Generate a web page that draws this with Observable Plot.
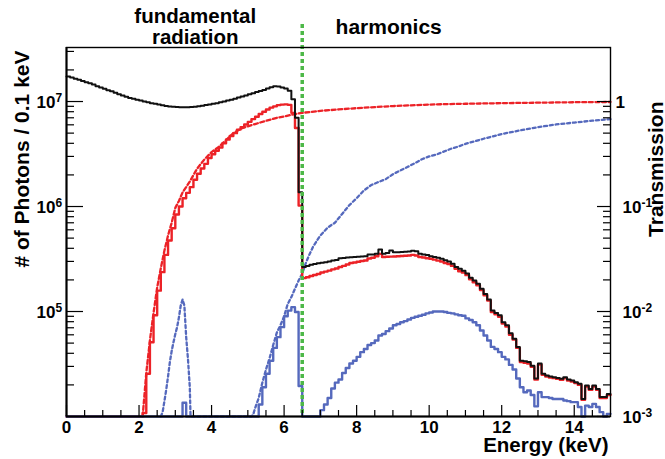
<!DOCTYPE html>
<html>
<head>
<meta charset="utf-8">
<script src="https://cdn.jsdelivr.net/npm/d3@7"></script>
<script src="https://cdn.jsdelivr.net/npm/@observablehq/plot@0.6"></script>
<style>
  body { margin: 0; background: #fff; }
  #chart svg { display: block; }
</style>
</head>
<body>
<div id="chart"></div>
<script>
// ---- data (0.1 keV bins starting at 0 keV) ----
const binWidth = 0.1;
const energyMax = 15;

const blackCounts = [
  1.73e7,1.69e7,1.65e7,1.61e7,1.57e7,1.53e7,1.49e7,1.45e7,1.40e7,1.36e7,
  1.32e7,1.28e7,1.25e7,1.21e7,1.17e7,1.14e7,1.11e7,1.08e7,1.06e7,1.04e7,
  1.02e7,1.00e7,9.85e6,9.65e6,9.5e6,9.35e6,9.2e6,9.05e6,8.95e6,8.9e6,
  8.85e6,8.82e6,8.8e6,8.8e6,8.85e6,8.9e6,9.0e6,9.1e6,9.25e6,9.35e6,
  9.5e6,9.65e6,9.85e6,1.0e7,1.02e7,1.04e7,1.065e7,1.09e7,1.115e7,1.14e7,
  1.17e7,1.2e7,1.23e7,1.26e7,1.29e7,1.33e7,1.37e7,1.40e7,1.39e7,1.36e7,
  1.33e7,1.27e7,1.05e7,7.0e6,1.37e6,2.65e5,2.72e5,2.79e5,2.84e5,2.88e5,
  2.91e5,2.95e5,3.0e5,3.06e5,3.1e5,3.22e5,3.24e5,3.27e5,3.29e5,3.31e5,
  3.33e5,3.35e5,3.36e5,3.49e5,3.5e5,3.54e5,3.9e5,3.54e5,3.6e5,3.81e5,
  3.67e5,3.67e5,3.68e5,3.7e5,3.72e5,3.79e5,3.75e5,3.54e5,3.5e5,3.45e5,
  3.36e5,3.3e5,3.25e5,3.18e5,3.08e5,2.99e5,2.85e5,2.65e5,2.55e5,2.45e5,
  2.3e5,2.1e5,1.97e5,1.84e5,1.65e5,1.47e5,1.3e5,1.02e5,9.7e4,9.2e4,
  7.9e4,7.4e4,6.2e4,5.5e4,4.6e4,3.4e4,3.35e4,3.3e4,3.05e4,2.3e4,
  3.2e4,2.55e4,2.46e4,2.4e4,2.37e4,2.33e4,2.29e4,2.37e4,2.25e4,2.2e4,
  2.12e4,2.05e4,1.47e4,1.97e4,1.83e4,1.97e4,1.83e4,1.53e4,1.53e4,1.64e4
];

const redCounts = [
  0,0,0,0,0,0,0,0,0,0,
  0,0,0,0,0,0,0,0,0,0,
  0,1.08e4,2.55e4,5.1e4,9.2e4,1.58e5,2.37e5,3.46e5,4.75e5,6.2e5,
  8.4e5,1.0e6,1.2e6,1.35e6,1.53e6,1.8e6,2.05e6,2.3e6,2.55e6,2.9e6,
  3.15e6,3.4e6,3.65e6,4.0e6,4.35e6,4.7e6,5.0e6,5.4e6,5.7e6,6.05e6,
  6.4e6,6.8e6,7.15e6,7.6e6,8.0e6,8.4e6,8.75e6,9.0e6,9.25e6,9.35e6,
  9.4e6,9.3e6,7.8e6,5.6e6,1.02e6,2.08e5,2.12e5,2.18e5,2.23e5,2.28e5,
  2.35e5,2.4e5,2.45e5,2.52e5,2.57e5,2.65e5,2.72e5,2.8e5,2.9e5,2.93e5,
  2.98e5,3.03e5,3.06e5,3.2e5,3.25e5,3.36e5,3.54e5,3.3e5,3.32e5,3.33e5,
  3.34e5,3.36e5,3.38e5,3.4e5,3.42e5,3.46e5,3.42e5,3.3e5,3.27e5,3.22e5,
  3.18e5,3.12e5,3.05e5,2.99e5,2.9e5,2.83e5,2.72e5,2.55e5,2.42e5,2.35e5,
  2.22e5,2.03e5,1.9e5,1.78e5,1.6e5,1.43e5,1.27e5,9.9e4,9.4e4,8.9e4,
  7.7e4,7.2e4,6.0e4,5.4e4,4.5e4,3.3e4,3.25e4,3.2e4,2.98e4,2.25e4,
  3.12e4,2.5e4,2.4e4,2.35e4,2.32e4,2.28e4,2.24e4,2.32e4,2.2e4,2.15e4,
  2.08e4,2.0e4,1.44e4,1.93e4,1.8e4,1.93e4,1.8e4,1.5e4,1.5e4,1.6e4
];

const blueCounts = [
  0,0,0,0,0,0,0,0,0,0,
  0,0,0,0,0,0,0,0,0,0,
  0,0,0,0,0,0,0,0,0,0,
  0,0,1.35e4,0,0,0,0,0,0,0,
  0,0,0,0,0,0,0,0,0,0,
  0,0,0,1.3e4,1.9e4,2.55e4,3.4e4,4.5e4,5.7e4,7.1e4,
  9.0e4,1.02e5,1.1e5,9.9e4,1.95e4,0,0,0,0,0,
  1.15e4,1.3e4,1.5e4,1.85e4,2.1e4,2.25e4,2.6e4,2.9e4,3.2e4,3.4e4,
  3.7e4,4.1e4,4.4e4,4.8e4,5.0e4,5.3e4,5.9e4,6.1e4,6.5e4,6.9e4,
  7.4e4,7.6e4,7.9e4,8.1e4,8.4e4,8.7e4,8.9e4,9.1e4,9.3e4,9.6e4,
  9.8e4,1.0e5,1.0e5,1.0e5,9.9e4,9.7e4,9.6e4,9.4e4,9.2e4,9.1e4,
  8.6e4,8.3e4,7.9e4,7.4e4,6.6e4,5.9e4,5.3e4,4.6e4,4.4e4,4.1e4,
  3.7e4,3.5e4,3.1e4,2.8e4,2.3e4,1.9e4,1.7e4,1.77e4,1.6e4,1.25e4,
  1.7e4,1.53e4,1.53e4,1.5e4,1.47e4,1.47e4,1.47e4,1.42e4,1.4e4,1.37e4,
  1.37e4,1.23e4,0,1.27e4,1.23e4,1.32e4,1.23e4,1.1e4,0,1.06e4
];

// transmission curves (right axis)
const redTransE = [2.1,2.2,2.3,2.4,2.5,2.6,2.7,2.8,2.9,3.0,3.1,3.2,3.3,3.4,3.6,3.8,4.0,4.2,4.4,4.6,4.8,5.0,5.2,5.5,5.8,6.0,6.3,6.5,7.0,7.5,8.0,8.5,9.0,9.5,10.0,10.5,11.0,12.0,13.0,14.0,15.0];
const redTransT = [0.001,0.0026,0.0053,0.0097,0.0169,0.0258,0.038,0.053,0.07,0.097,0.113,0.136,0.153,0.173,0.229,0.28,0.33,0.37,0.43,0.50,0.55,0.58,0.61,0.655,0.70,0.72,0.76,0.78,0.815,0.84,0.865,0.885,0.905,0.92,0.935,0.945,0.952,0.965,0.975,0.985,0.99];

const blueTransE = [2.6,2.65,2.7,2.75,2.8,2.85,2.9,2.95,3.0,3.05,3.1,3.15,3.2,3.25,3.3,3.35,3.4,3.42,
  5.1,5.15,5.2,5.3,5.4,5.5,5.6,5.7,5.8,5.9,6.0,6.1,6.2,6.3,6.4,6.5,6.6,6.7,6.8,6.9,7.0,7.2,7.4,7.6,7.8,8.0,8.2,8.4,8.6,8.8,9.0,9.2,9.4,9.6,9.8,10.0,10.2,10.4,10.6,10.8,11.0,11.5,12.0,12.5,13.0,13.5,14.0,14.5,15.0];
const blueTransT = [0,0.0011,0.0014,0.0018,0.0024,0.0033,0.0042,0.0051,0.0061,0.0071,0.0088,0.0114,0.013,0.0114,0.0057,0.0035,0.0019,0,
  0,0.00105,0.0012,0.0015,0.0021,0.0028,0.0036,0.0048,0.0063,0.0074,0.009,0.0118,0.0137,0.0165,0.0197,0.023,0.029,0.035,0.0415,0.047,0.053,0.063,0.070,0.085,0.103,0.12,0.142,0.16,0.171,0.182,0.203,0.22,0.238,0.258,0.282,0.30,0.313,0.333,0.355,0.372,0.395,0.442,0.49,0.53,0.57,0.605,0.63,0.657,0.68];

// right axis = left axis / 1e7
const transToPhotons = 1e7;
const divider = 6.5;

// ticks & labels
const xMajorTicks = [0,2,4,6,8,10,12,14];
const xTickLabels = ["0","2","4","6","8","10","12","14"];
const xMinorTicks = [0.5,1,1.5,2.5,3,3.5,4.5,5,5.5,6.5,7,7.5,8.5,9,9.5,10.5,11,11.5,12.5,13,13.5,14.5];
const yMajorTicks = [1e5,1e6,1e7];
const yTickExponents = ["5","6","7"];
const yMinorTicks = [2e4,3e4,4e4,5e4,6e4,7e4,8e4,9e4,2e5,3e5,4e5,5e5,6e5,7e5,8e5,9e5,2e6,3e6,4e6,5e6,6e6,7e6,8e6,9e6,2e7,3e7];
const tMajorTicks = [0.001,0.01,0.1,1];
const tMinorTicks = [0.002,0.003,0.004,0.005,0.006,0.007,0.008,0.009,0.02,0.03,0.04,0.05,0.06,0.07,0.08,0.09,0.2,0.3,0.4,0.5,0.6,0.7,0.8,0.9];
const tPowerTicks = [0.001,0.01,0.1];
const tTickExponents = ["-3","-2","-1"];
const tUnitTick = [1];
const tUnitLabel = ["1"];

// colours
const cBlack = "#111111", cRed = "#ec2227", cBlue = "#5569bd", cGreen = "#4db848";
const yFloor = 1e4;

// frame size in px (for inward tick lengths)
const W = 665, H = 459, mL = 66, mR = 55, mT = 47, mB = 43;
const fw = W - mL - mR, fh = H - mT - mB;

function hist(vals) {
  const pts = vals.map((v, i) => ({e: +(i * binWidth).toFixed(2), v}));
  pts.push({e: energyMax, v: vals[vals.length - 1]});
  return pts;
}
const trans = (E, T) => E.map((e, i) => ({e, v: T[i] * transToPhotons}));
const yv = d => Math.max(d.v, yFloor);
const toP = t => t * transToPhotons;

const font = {fontFamily: "'Liberation Sans', Arial, Helvetica, sans-serif", fontWeight: "bold", fill: "#000"};

const chart = Plot.plot({
  width: W, height: H,
  marginLeft: mL, marginRight: mR, marginTop: mT, marginBottom: mB,
  x: {domain: [0, energyMax], axis: null},
  y: {type: "log", domain: [1e4, 3.27e7], axis: null},
  style: {fontFamily: font.fontFamily, background: "#fff", overflow: "visible"},
  marks: [
    Plot.line(trans(redTransE, redTransT), {x: "e", y: yv, stroke: cRed, strokeWidth: 2.3, strokeDasharray: "4,2.6"}),
    Plot.line(trans(blueTransE, blueTransT), {x: "e", y: yv, stroke: cBlue, strokeWidth: 2.3, strokeDasharray: "3,2.8"}),
    Plot.line(hist(redCounts), {x: "e", y: yv, curve: "step-after", stroke: cRed, strokeWidth: 2.4}),
    Plot.line(hist(blackCounts), {x: "e", y: yv, curve: "step-after", stroke: cBlack, strokeWidth: 2}),
    Plot.line(hist(blueCounts), {x: "e", y: yv, curve: "step-after", stroke: cBlue, strokeWidth: 2.4}),
    Plot.ruleX([divider], {stroke: cGreen, strokeWidth: 3.5, strokeDasharray: "4,3", insetTop: -23}),
    Plot.frame({stroke: "#000", strokeWidth: 1.4}),
    Plot.ruleX([0], {stroke: "#000", strokeWidth: 2}),
    Plot.ruleY([1e4], {stroke: "#000", strokeWidth: 2}),
    // inward ticks
    Plot.tickX(xMajorTicks, {x: d => d, insetTop: fh - 11, stroke: "#000", strokeWidth: 1.2}),
    Plot.tickX(xMinorTicks, {x: d => d, insetTop: fh - 6, stroke: "#000", strokeWidth: 1.2}),
    Plot.tickY(yMajorTicks, {y: d => d, insetRight: fw - 17, stroke: "#000", strokeWidth: 1.2}),
    Plot.tickY(yMinorTicks, {y: d => d, insetRight: fw - 8, stroke: "#000", strokeWidth: 1.2}),
    Plot.tickY(tMajorTicks, {y: toP, insetLeft: fw - 13, stroke: "#000", strokeWidth: 1.2}),
    Plot.tickY(tMinorTicks, {y: toP, insetLeft: fw - 7, stroke: "#000", strokeWidth: 1.2}),
    // tick labels
    Plot.text(xMajorTicks, {x: d => d, frameAnchor: "bottom", lineAnchor: "bottom", dy: 16, text: (d, i) => xTickLabels[i], fontSize: 17, ...font}),
    Plot.text(yMajorTicks, {y: d => d, frameAnchor: "left", textAnchor: "end", lineAnchor: "bottom", dx: -11, dy: 6, text: () => "10", fontSize: 17, ...font}),
    Plot.text(yMajorTicks, {y: d => d, frameAnchor: "left", textAnchor: "start", lineAnchor: "bottom", dx: -11, dy: 0, text: (d, i) => yTickExponents[i], fontSize: 12, ...font}),
    Plot.text(tPowerTicks, {y: toP, frameAnchor: "right", textAnchor: "start", lineAnchor: "bottom", dx: 12, dy: 6, text: () => "10", fontSize: 17, ...font}),
    Plot.text(tPowerTicks, {y: toP, frameAnchor: "right", textAnchor: "start", lineAnchor: "bottom", dx: 31, dy: 0, text: (d, i) => tTickExponents[i], fontSize: 12, ...font}),
    Plot.text(tUnitTick, {y: toP, frameAnchor: "right", textAnchor: "start", lineAnchor: "bottom", dx: 5, dy: 6, text: (d, i) => tUnitLabel[i], fontSize: 17, ...font}),
    // axis titles
    Plot.text(["Energy (keV)"], {frameAnchor: "bottom-right", textAnchor: "end", lineAnchor: "bottom", dx: -2, dy: 35, text: d => d, fontSize: 20.5, ...font}),
    Plot.text(["# of Photons / 0.1 keV"], {frameAnchor: "top-left", rotate: -90, textAnchor: "end", lineAnchor: "bottom", dx: -38, dy: 3, text: d => d, fontSize: 21, ...font}),
    Plot.text(["Transmission"], {frameAnchor: "right", y: () => toP(1), rotate: -90, textAnchor: "end", lineAnchor: "bottom", dx: 52, text: d => d, fontSize: 21, ...font}),
    // region annotations
    Plot.text(["fundamental\nradiation"], {x: () => 3.55, frameAnchor: "top", lineAnchor: "bottom", lineHeight: 1.0, dy: -4, text: d => d, fontSize: 20.5, ...font}),
    Plot.text(["harmonics"], {x: () => 7.42, frameAnchor: "top", textAnchor: "start", lineAnchor: "bottom", dy: -14, text: d => d, fontSize: 21, ...font})
  ]
});
document.getElementById("chart").append(chart);
</script>
</body>
</html>
